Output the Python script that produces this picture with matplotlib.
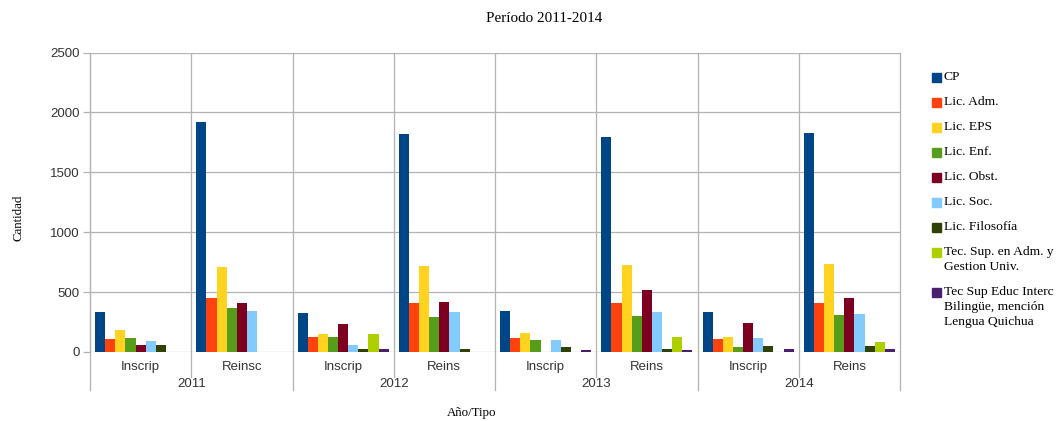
import matplotlib.pyplot as plt
import matplotlib.transforms as mtransforms
from matplotlib.patches import Rectangle

# years and the two enrolment types shown under each year
years = ["2011", "2012", "2013", "2014"]
tipos = ["Inscrip", "Reinsc", "Inscrip", "Reins", "Inscrip", "Reins", "Inscrip", "Reins"]

carreras = ["CP", "Lic. Adm.", "Lic. EPS", "Lic. Enf.", "Lic. Obst.", "Lic. Soc.",
            "Lic. Filosofía", "Tec. Sup. en Adm. y\nGestion Univ.",
            "Tec Sup Educ Interc\nBilingüe, mención\nLengua Quichua"]
colores = ["#004586", "#ff420e", "#ffd320", "#579d1c", "#7e0021", "#83caff",
           "#314004", "#aecf00", "#4b1f6f"]

# one value per category (2011 Inscrip, 2011 Reinsc, 2012 Inscrip, ...)
cp = [338, 1922, 324, 1818, 344, 1796, 336, 1825]
lic_adm = [110, 453, 129, 408, 119, 411, 110, 405]
lic_eps = [182, 711, 154, 717, 157, 728, 129, 734]
lic_enf = [119, 364, 127, 288, 102, 302, 43, 305]
lic_obst = [60, 405, 232, 414, 0, 514, 244, 452]
lic_soc = [90, 344, 57, 336, 102, 330, 119, 319]
lic_filo = [62, 0, 21, 21, 43, 29, 54, 48]
tec_adm = [0, 0, 154, 0, 0, 129, 0, 85]
tec_educ = [0, 0, 29, 0, 15, 18, 21, 23]
series = [cp, lic_adm, lic_eps, lic_enf, lic_obst, lic_soc, lic_filo, tec_adm, tec_educ]

serif = "Liberation Serif"
sans = "Liberation Sans"
grid_c = "#b3b3b3"

fig = plt.figure(figsize=(10.6, 4.21), dpi=100)
ax = fig.add_axes([90 / 1060, 1 - 352 / 421, 810 / 1060, 299.5 / 421])

n = len(series)
bw = 1.0 / (n + 1)
for j, vals in enumerate(series):
    xs = [i + bw / 2 + bw * j + bw / 2 for i in range(len(tipos))]
    ax.bar(xs, vals, width=bw, color=colores[j], linewidth=0, zorder=3)

ax.set_xlim(0, len(tipos))
ax.set_ylim(0, 2500)
ax.set_yticks(range(0, 2501, 500))
ax.set_xticks([])
ax.grid(axis="y", color=grid_c, linewidth=0.9, zorder=0)
for s in ["top", "right", "bottom"]:
    ax.spines[s].set_visible(False)
ax.spines["left"].set_color(grid_c)
ax.spines["left"].set_linewidth(0.9)
ax.tick_params(axis="y", length=5, width=0.9, color=grid_c, pad=2.5)
for lbl in ax.get_yticklabels():
    lbl.set_fontfamily(sans)
    lbl.set_fontsize(9.5)
    lbl.set_color("#333333")

# category separators, longer ones between years
trans = mtransforms.blended_transform_factory(ax.transData, ax.transAxes)
for k in range(len(tipos) + 1):
    y0 = -0.127 if k % 2 == 0 else -0.083
    ax.plot([k, k], [y0, 1], color=grid_c, linewidth=0.9, transform=trans,
            clip_on=False, zorder=1)

for i, t in enumerate(tipos):
    ax.text(i + 0.5, -0.05, t, transform=trans, ha="center", va="center",
            fontfamily=sans, fontsize=9.5, color="#333333")
for i, yr in enumerate(years):
    ax.text(2 * i + 1, -0.106, yr, transform=trans, ha="center", va="center",
            fontfamily=sans, fontsize=9.5, color="#333333")

fig.text(544 / 1060, 1 - 18 / 421, "Período 2011-2014", ha="center", va="center",
         fontfamily=serif, fontsize=10.9)
fig.text(472 / 1060, 1 - 413 / 421, "Año/Tipo", ha="center", va="center",
         fontfamily=serif, fontsize=9.3)
fig.text(18 / 1060, 1 - 218 / 421, "Cantidad", ha="center", va="center",
         rotation=90, fontfamily=serif, fontsize=9.3)

# legend drawn entry by entry so multi-line labels stay top-aligned
y = 77
for name, c in zip(carreras, colores):
    fig.patches.append(Rectangle((932 / 1060, 1 - (y + 4.5) / 421), 9 / 1060, 9 / 421,
                                 transform=fig.transFigure, color=c))
    lines = name.split("\n")
    for m, line in enumerate(lines):
        fig.text(944 / 1060, 1 - (y + 15 * m) / 421, line, ha="left", va="center",
                 fontfamily=serif, fontsize=9.7)
    y += 25 + 15 * (len(lines) - 1)

fig.savefig("out.png", dpi=100)
